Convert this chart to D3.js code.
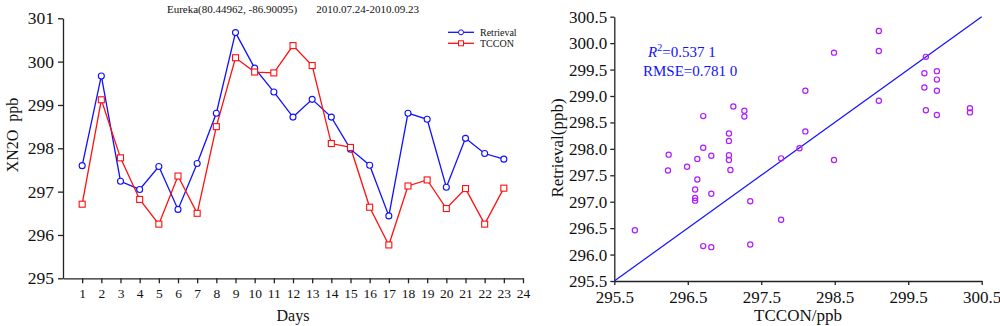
<!DOCTYPE html>
<html lang="en">
<head>
<meta charset="UTF-8">
<title>XN2O Eureka</title>
<script src="https://d3js.org/d3.v7.min.js"></script>
<style>
  body { margin: 0; background: #fff; }
  svg text { font-family: "Liberation Serif", "Times New Roman", serif; fill: #111; }
  .axis path, .axis line { stroke: #222; stroke-width: 1.3; }
</style>
</head>
<body>
<svg id="chart" width="1000" height="326"></svg>
<script>
// left panel: daily means
const days = d3.range(1, 24);
const retrieval = [297.60, 299.67, 297.24, 297.05, 297.58, 296.59, 297.65, 298.81, 300.67, 299.85, 299.30, 298.72,
  299.13, 298.72, 297.98, 297.61, 296.44, 298.81, 298.67, 297.10, 298.23, 297.88, 297.75];
const tccon = [296.71, 299.12, 297.78, 296.82, 296.25, 297.36, 296.50, 298.50, 300.09, 299.76, 299.74, 300.37,
  299.91, 298.11, 298.02, 296.64, 295.77, 297.13, 297.27, 296.61, 297.07, 296.25, 297.08];
const dayTicks = d3.range(1, 25);
const leftYTicks = [295, 296, 297, 298, 299, 300, 301];

// right panel: scatter TCCON vs Retrieval
const scatterX = [299.10, 299.10, 298.49, 299.74, 299.72, 299.89, 299.89, 299.72, 299.89, 298.10, 299.10, 299.74,
  299.89, 300.34, 300.34, 297.12, 297.27, 297.27, 296.71, 298.10, 297.06, 297.06, 296.71, 298.02, 296.24, 296.82,
  296.63, 297.06, 297.06, 297.77, 298.49, 296.49, 296.23, 297.08, 296.63, 296.60, 296.60, 296.60, 296.82, 297.35,
  297.77, 295.78, 296.71, 296.82, 297.35];
const scatterY = [300.23, 299.85, 299.82, 299.74, 299.43, 299.47, 299.31, 299.16, 299.10, 299.10, 298.91, 298.73,
  298.64, 298.77, 298.69, 298.80, 298.72, 298.61, 298.62, 298.33, 298.29, 298.15, 298.02, 298.01, 297.89, 297.87,
  297.81, 297.88, 297.79, 297.82, 297.79, 297.66, 297.59, 297.60, 297.42, 297.23, 297.07, 297.02, 297.15, 297.01,
  296.66, 296.46, 296.16, 296.14, 296.19];
const fitX = [295.5, 300.5];
const fitY = [295.5, 300.5];
const rightXTicks = [295.5, 296.5, 297.5, 298.5, 299.5, 300.5];
const rightYTicks = [295.5, 296.0, 296.5, 297.0, 297.5, 298.0, 298.5, 299.0, 299.5, 300.0, 300.5];

const svg = d3.select("#chart");
const blue = "#1010ff", red = "#ff1010", purple = "#b01cff";

// ---------- left chart ----------
const x1 = d3.scaleLinear().domain([0, 24]).range([63, 523]);
const y1 = d3.scaleLinear().domain([295, 301]).range([278.3, 18.3]);

svg.append("g").attr("class", "axis")
    .attr("transform", "translate(0,278.3)")
    .call(d3.axisBottom(x1).tickValues(dayTicks).tickSize(5).tickSizeOuter(0).tickPadding(5))
    .call(g => g.selectAll("text").attr("font-size", 13.5).attr("font-family", "Liberation Serif"));

svg.append("g").attr("class", "axis")
    .attr("transform", "translate(63,0)")
    .call(d3.axisLeft(y1).tickValues(leftYTicks).tickFormat(d3.format("d")).tickSize(5).tickSizeOuter(0).tickPadding(4))
    .call(g => g.selectAll("text").attr("font-size", 17.5).attr("font-family", "Liberation Serif"));

const line1 = d3.line().x((d, i) => x1(days[i])).y(d => y1(d));

svg.append("path").datum(retrieval).attr("d", line1)
    .attr("fill", "none").attr("stroke", blue).attr("stroke-width", 1.3);
svg.append("path").datum(tccon).attr("d", line1)
    .attr("fill", "none").attr("stroke", red).attr("stroke-width", 1.3);

svg.append("g").selectAll("circle").data(retrieval).join("circle")
    .attr("cx", (d, i) => x1(days[i])).attr("cy", d => y1(d)).attr("r", 3)
    .attr("fill", "#fff").attr("stroke", blue).attr("stroke-width", 1.1);
svg.append("g").selectAll("rect").data(tccon).join("rect")
    .attr("x", (d, i) => x1(days[i]) - 3).attr("y", d => y1(d) - 3)
    .attr("width", 6).attr("height", 6)
    .attr("fill", "#fff").attr("stroke", red).attr("stroke-width", 1.1);

svg.append("text").attr("x", 293).attr("y", 13).attr("text-anchor", "middle")
    .attr("font-size", 11).attr("xml:space", "preserve")
    .text("Eureka(80.44962, -86.90095)       2010.07.24-2010.09.23");

svg.append("text").attr("x", 293).attr("y", 321).attr("text-anchor", "middle")
    .attr("font-size", 16).text("Days");
svg.append("text").attr("transform", "translate(18,135) rotate(-90)").attr("text-anchor", "middle")
    .attr("font-size", 16).attr("xml:space", "preserve").text("XN2O  ppb");

// legend
const legend = [{ name: "Retrieval", color: blue, shape: "circle" }, { name: "TCCON", color: red, shape: "square" }];
legend.forEach((d, i) => {
  const ly = 32.3 + i * 11;
  svg.append("line").attr("x1", 448).attr("x2", 474).attr("y1", ly).attr("y2", ly)
      .attr("stroke", d.color).attr("stroke-width", 1.3);
  if (d.shape === "circle") {
    svg.append("circle").attr("cx", 461).attr("cy", ly).attr("r", 2.5)
        .attr("fill", "#fff").attr("stroke", d.color);
  } else {
    svg.append("rect").attr("x", 458.5).attr("y", ly - 2.5).attr("width", 5).attr("height", 5)
        .attr("fill", "#fff").attr("stroke", d.color);
  }
  svg.append("text").attr("x", 480).attr("y", ly + 3.5).attr("font-size", 10).text(d.name);
});

// ---------- right chart ----------
const x2 = d3.scaleLinear().domain([295.5, 300.5]).range([614.3, 981.7]);
const y2 = d3.scaleLinear().domain([295.5, 300.5]).range([281, 16.7]);

svg.append("g").attr("class", "axis")
    .attr("transform", "translate(0,281)")
    .call(d3.axisBottom(x2).tickValues(rightXTicks).tickFormat(d3.format(".1f")).tickSize(4).tickSizeOuter(0).tickPadding(6))
    .call(g => g.selectAll("text").attr("font-size", 17).attr("font-family", "Liberation Serif"));

svg.append("g").attr("class", "axis")
    .attr("transform", "translate(614.3,0)")
    .call(d3.axisLeft(y2).tickValues(rightYTicks).tickFormat(d3.format(".1f")).tickSize(4).tickSizeOuter(0).tickPadding(3))
    .call(g => g.selectAll("text").attr("font-size", 17).attr("font-family", "Liberation Serif"));

svg.append("line")
    .attr("x1", x2(fitX[0])).attr("y1", y2(fitY[0]))
    .attr("x2", x2(fitX[1])).attr("y2", y2(fitY[1]))
    .attr("stroke", blue).attr("stroke-width", 1.2);

svg.append("g").selectAll("circle").data(scatterX).join("circle")
    .attr("cx", d => x2(d)).attr("cy", (d, i) => y2(scatterY[i])).attr("r", 2.6)
    .attr("fill", "none").attr("stroke", purple).attr("stroke-width", 1.2);

const r2 = svg.append("text").attr("x", 648).attr("y", 57).attr("font-size", 15).style("fill", blue);
r2.append("tspan").attr("font-style", "italic").text("R");
r2.append("tspan").attr("font-size", 10).attr("dy", -6).text("2");
r2.append("tspan").attr("dy", 6).text("=0.537 1");
svg.append("text").attr("x", 643).attr("y", 76).attr("font-size", 15).style("fill", blue).text("RMSE=0.781 0");

svg.append("text").attr("x", 798).attr("y", 321).attr("text-anchor", "middle")
    .attr("font-size", 17).text("TCCON/ppb");
svg.append("text").attr("transform", "translate(563,148) rotate(-90)").attr("text-anchor", "middle")
    .attr("font-size", 17).text("Retrieval(ppb)");
</script>
</body>
</html>
